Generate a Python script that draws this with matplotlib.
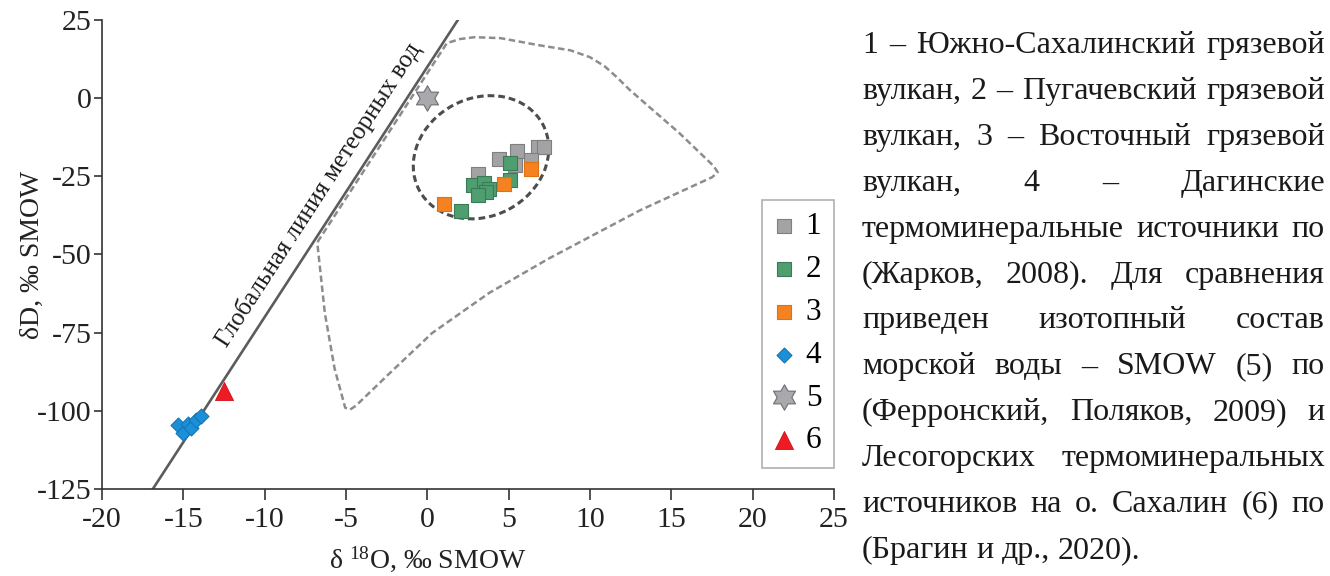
import numpy as np
import matplotlib
matplotlib.use("Agg")
import matplotlib.pyplot as plt
import matplotlib.transforms as mtransforms
from matplotlib.path import Path
from matplotlib.patches import Ellipse, Polygon

plt.rcParams["font.family"] = ["Liberation Serif", "DejaVu Serif"]
plt.rcParams["mathtext.fontset"] = "custom"
plt.rcParams["mathtext.rm"] = "Liberation Serif"
plt.rcParams["mathtext.default"] = "regular"
plt.rcParams["axes.unicode_minus"] = False

# изотопный состав, δ18O и δD, ‰ SMOW
# 1 - Южно-Сахалинский грязевой вулкан
gr1_o = [3.1, 4.4, 5.5, 6.8, 7.2, 6.4, 5.4]
gr1_d = [-24.1, -19.3, -16.8, -15.6, -15.6, -19.8, -21.4]
# 2 - Пугачевский грязевой вулкан
gr2_o = [5.1, 5.1, 2.8, 3.5, 3.8, 3.6, 3.1, 2.1]
gr2_d = [-20.6, -26.2, -27.8, -27.1, -29.2, -30.0, -31.0, -36.1]
# 3 - Восточный грязевой вулкан
gr3_o = [1.0, 4.7, 6.4]
gr3_d = [-33.7, -27.6, -22.5]
# 4 - Дагинские термоминеральные источники
gr4_o = [-15.3, -15.0, -14.7, -14.5, -14.2, -13.9]
gr4_d = [-104.5, -107.1, -104.2, -105.5, -102.9, -101.7]
# 5 - SMOW
gr5_o = [0.0]
gr5_d = [0.0]
# 6 - Лесогорские термоминеральные источники
gr6_o = [-12.5]
gr6_d = [-93.5]

# контур поля (пунктир)
field_o = [-6.75, 1.2, 2.0, 2.9, 4.5, 6.9, 8.8, 10.0, 10.9, 11.65, 12.45, 15.5, 17.6,
           17.85, 17.5, 13.1, 7.5, 3.8, 0.3, -2.3, -4.4, -4.75, -5.05,
           -5.7, -6.3, -6.75]
field_d = [-46.0, 17.6, 18.9, 19.5, 19.2, 16.9, 15.3, 13.1, 10.2, 6.7, 2.6, -11.2, -21.7,
           -23.7, -25.3, -35.8, -51.2, -62.3, -75.1, -87.9, -98.4, -99.6, -99.0,
           -86.5, -68.8, -47.0]

# овал вокруг точек грязевых вулканов
oval_center = (3.3, -18.9)

note_lines = [
    "1 – Южно-Сахалинский грязевой",
    "вулкан, 2 – Пугачевский грязевой",
    "вулкан, 3 – Восточный грязевой",
    "вулкан, 4 – Дагинские",
    "термоминеральные источники по",
    "(Жарков, 2008). Для сравнения",
    "приведен изотопный состав",
    "морской воды – SMOW (5) по",
    "(Ферронский, Поляков, 2009) и",
    "Лесогорских термоминеральных",
    "источников на о. Сахалин (6) по",
    "(Брагин и др., 2020).",
]

W, H = 1330, 576
fig = plt.figure(figsize=(W / 100, H / 100), dpi=100)
ax = fig.add_axes([102 / W, 87 / H, 732 / W, 469 / H])
ax.set_xlim(-20, 25)
ax.set_ylim(-125, 25)
ax.set_autoscale_on(False)

ax.add_patch(Polygon(np.column_stack([field_o, field_d]), closed=True, fill=False,
                     ec="#8c8c8c", lw=1.8, ls=(0, (2.6, 1.4)), joinstyle="round", zorder=1))
ax.add_patch(Ellipse((0, 0), 140, 118, angle=28, fill=False, ec="#4d4d4d", lw=2.2,
                     ls=(0, (2.2, 1.3)), zorder=1,
                     transform=mtransforms.ScaledTranslation(*oval_center, ax.transData)))

# глобальная линия метеорных вод: δD = 8·δ18O + 10
gmwl_o = np.array([-20.0, 5.0])
ax.plot(gmwl_o, 8 * gmwl_o + 10, color="#5c5c5c", lw=1.9, zorder=2)
ax.text(-6.7, -31, "Глобальная линия метеорных вод", rotation=57, rotation_mode="anchor",
        ha="center", va="center", fontsize=18, color="#1a1a1a")

hexagram = Path.unit_regular_star(6, 0.577)
h1 = ax.scatter(gr1_o, gr1_d, marker="s", s=94, fc="#a3a3a6", ec="#7f7f82", lw=0.8, zorder=3)
h2 = ax.scatter(gr2_o, gr2_d, marker="s", s=94, fc="#4f9e70", ec="#3b7a56", lw=0.8, zorder=4)
h3 = ax.scatter(gr3_o, gr3_d, marker="s", s=94, fc="#f58220", ec="#e07010", lw=0.8, zorder=5)
h4 = ax.scatter(gr4_o, gr4_d, marker="D", s=58, fc="#1b8fd8", ec="#1577b5", lw=0.8, zorder=3)
h5 = ax.scatter(gr5_o, gr5_d, marker=hexagram, s=335, fc="#a9a9ad", ec="#6e6e70", lw=0.8, zorder=3)
h6 = ax.scatter(gr6_o, gr6_d, marker="^", s=169, fc="#ed1c24", ec="#d01018", lw=0.6, zorder=3)

ax.set_xticks(range(-20, 26, 5))
ax.set_yticks(range(-125, 26, 25))
for side in ["top", "right"]:
    ax.spines[side].set_visible(False)
for side in ["left", "bottom"]:
    ax.spines[side].set_color("#333333")
    ax.spines[side].set_linewidth(1.2)
ax.tick_params(direction="out", width=1.2, color="#333333",
               labelsize=21.5, labelcolor="#222222")
ax.tick_params(axis="x", length=8, pad=5)
ax.tick_params(axis="y", length=6, pad=1.5)
ax.set_xlabel("δ $^{18}$O, ‰ SMOW", fontsize=20, color="#222222")
ax.set_ylabel("δD, ‰ SMOW", fontsize=20, color="#222222")
ax.xaxis.set_label_coords(0.445, -0.117)
ax.yaxis.set_label_coords(-0.078, 0.5)

leg = ax.legend([h1, h2, h3, h4, h5, h6], ["1", "2", "3", "4", "5", "6"],
                loc="upper left", bbox_to_anchor=(762 / W, 1 - 200 / H),
                bbox_transform=fig.transFigure, borderaxespad=0, fontsize=22.5,
                fancybox=False, framealpha=1, edgecolor="#b0b0b0",
                borderpad=0.4, handlelength=0.6, handletextpad=0.4, labelspacing=0.44,
                scatterpoints=1)
leg.get_frame().set_linewidth(1.2)

# текст справа, выровненный по ширине
left_px, right_px = 862, 1325
first_base, step = 53, 45.9
renderer = fig.canvas.get_renderer()
for i, line in enumerate(note_lines):
    y = 1 - (first_base + i * step) / H
    words = line.split()
    items = [fig.text(0, y, w, fontsize=23, va="baseline", color="#1a1a1a") for w in words]
    widths = [t.get_window_extent(renderer).width for t in items]
    if i == len(note_lines) - 1:
        gap = 8
    else:
        gap = max((right_px - left_px - sum(widths)) / (len(words) - 1), 4)
    x = left_px
    for t, w in zip(items, widths):
        t.set_x(x / W)
        x += w + gap

fig.savefig("out.png", dpi=100)
